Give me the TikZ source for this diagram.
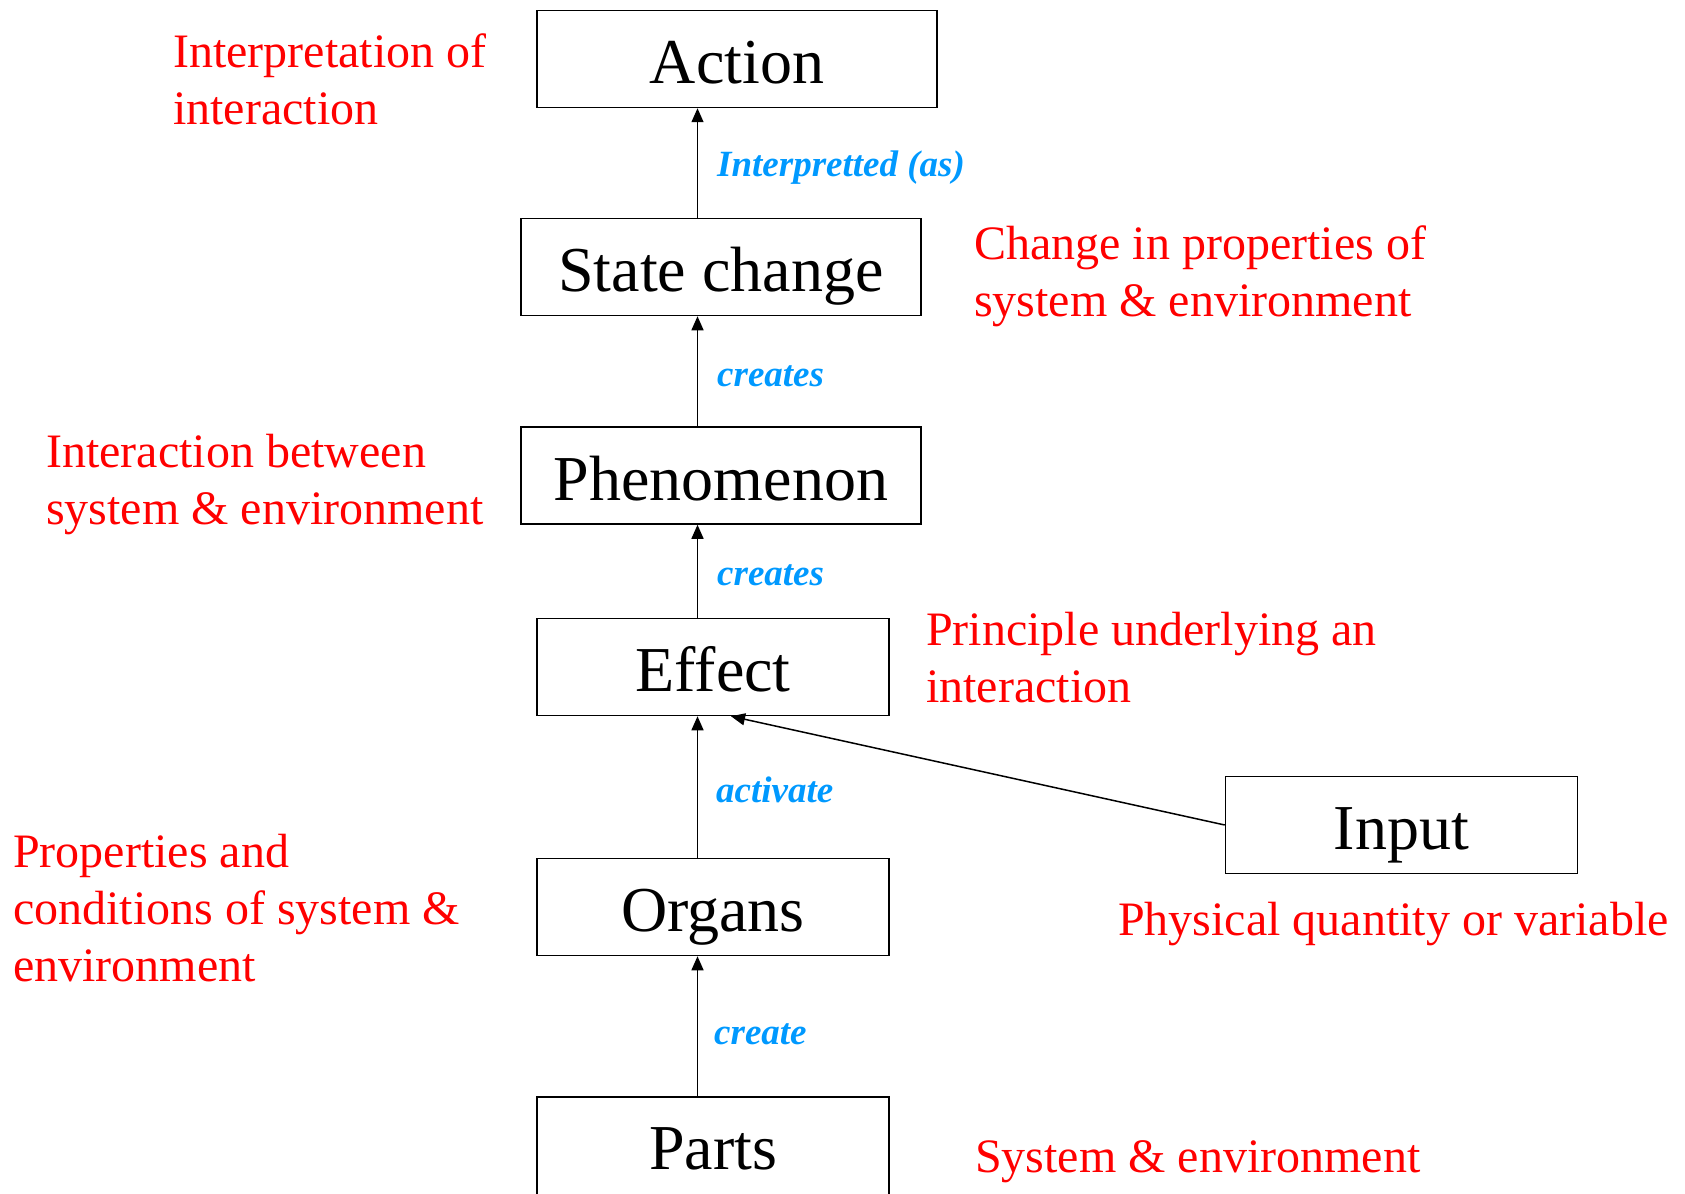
\documentclass[tikz,border=0pt]{standalone}
\usepackage{fontspec}
\setmainfont{Liberation Serif}
\usetikzlibrary{arrows.meta,calc}
\definecolor{notered}{RGB}{255,0,0}
\definecolor{linkblue}{RGB}{0,153,255}
\tikzset{
  block/.style={draw=black, line width=1.5pt, minimum height=97pt, inner sep=0pt,
    text height=49pt, text depth=0pt, font=\fontsize{64}{70}\selectfont},
  wideblock/.style={block, minimum width=400pt},
  narrowblock/.style={block, minimum width=352pt},
  note/.style={anchor=base west, inner sep=0pt, text=notered,
    font=\fontsize{48}{57}\selectfont},
  verb/.style={anchor=base west, inner sep=0pt, text=linkblue,
    font=\fontsize{37}{44}\selectfont\bfseries\itshape},
  link/.style={line width=1.5pt, -{Triangle[length=14pt,width=12pt]}},
}
\newcommand{\lines}[1]{\begin{tabular}[t]{@{}l@{}}#1\end{tabular}}
\begin{document}
\begin{tikzpicture}[x=1pt,y=-1pt]
  \path[use as bounding box, clip] (0,0) rectangle (1685,1193);

  % the chain of concepts
  \node[wideblock]   (action) at (737,59)    {Action};
  \node[wideblock]   (state)  at (721,267)   {State change};
  \node[wideblock]   (phen)   at (721,475.5) {Phenomenon};
  \node[narrowblock] (effect) at (713,667)   {Effect};
  \node[narrowblock] (input)  at (1401.5,825) {Input};
  \node[narrowblock] (organs) at (713,907)   {Organs};
  \node[narrowblock, anchor=north, minimum height=110pt, text depth=14pt]
                     (parts)  at (713,1096)  {Parts};

  % vertical spine of the arrows
  \coordinate (spine) at (697.5,0);
  \draw[link] (state.north -| spine)  -- (action.south -| spine);
  \draw[link] (phen.north -| spine)   -- (state.south -| spine);
  \draw[link] (effect.north -| spine) -- (phen.south -| spine);
  \draw[link] (organs.north -| spine) -- (effect.south -| spine);
  \draw[link] (parts.north -| spine)  -- (organs.south -| spine);
  \draw[link] (input.west) -- ($(effect.south west)!0.551!(effect.south east)$);

  % relation labels
  \node[verb] (v1) at (717,177)  {Interpretted (as)};
  \node[verb] (v2) at (717,386)  {creates};
  \node[verb] (v3) at (717,585)  {creates};
  \node[verb] (v4) at (716,802)  {activate};
  \node[verb] (v5) at (714,1044) {create};

  % explanations
  \node[note] (n1) at (173,68)   {\lines{Interpretation of\\interaction}};
  \node[note] (n2) at (974,259)  {\lines{Change in properties of\\system \& environment}};
  \node[note] (n3) at (46,467)   {\lines{Interaction between\\system \& environment}};
  \node[note] (n4) at (926,645)  {\lines{Principle underlying an\\interaction}};
  \node[note] (n5) at (13,867)   {\lines{Properties and\\conditions of system \&\\environment}};
  \node[note] (n6) at (1118,935) {Physical quantity or variable};
  \node[note] (n7) at (975,1172) {System \& environment};
\end{tikzpicture}
\end{document}
